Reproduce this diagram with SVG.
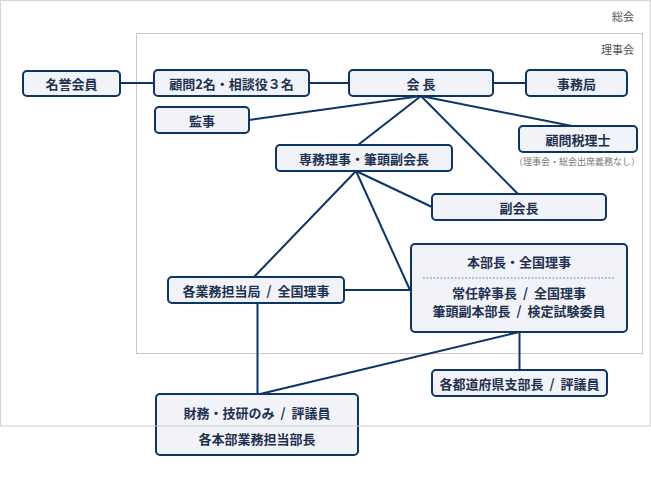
<svg xmlns="http://www.w3.org/2000/svg" width="651" height="482" viewBox="0 0 651 482">
<style>
.n{fill:#f2f3f8;stroke:#0c3563;stroke-width:2}
.t{font-family:"Noto Sans CJK JP","Noto Sans",sans-serif;font-size:13px;font-weight:bold;fill:#1e3150;text-anchor:middle;dominant-baseline:central}
.c{stroke:#0c3563;stroke-width:2;fill:none}
.g{font-family:"Noto Sans CJK JP","Noto Sans",sans-serif;font-size:11px;fill:#555;text-anchor:end}
.s{font-family:"Noto Sans CJK JP","Noto Sans",sans-serif;font-size:9px;fill:#777;text-anchor:middle}
</style>
<rect width="651" height="482" fill="#fff"/>
<rect x="136.5" y="33.5" width="506" height="320" fill="none" stroke="#c8c8c8" stroke-width="1"/>
<text class="g" x="634" y="21">総会</text>
<text class="g" x="634" y="54">理事会</text>
<g id="connectors">
<line class="c" x1="120" y1="83" x2="154" y2="83"/>
<line class="c" x1="309" y1="83" x2="349" y2="83"/>
<line class="c" x1="493" y1="83" x2="526" y2="83"/>
<line class="c" x1="421" y1="96" x2="249" y2="120"/>
<line class="c" x1="421" y1="96" x2="358" y2="145"/>
<line class="c" x1="421" y1="96" x2="572" y2="126"/>
<line class="c" x1="421" y1="96" x2="518" y2="194"/>
<line class="c" x1="356" y1="171" x2="432" y2="207"/>
<line class="c" x1="356" y1="171" x2="254" y2="277"/>
<line class="c" x1="356" y1="171" x2="410" y2="290"/>
<line class="c" x1="344" y1="290" x2="411" y2="290"/>
<line class="c" x1="257.5" y1="303" x2="257.5" y2="394"/>
<line class="c" x1="519.5" y1="332" x2="519.5" y2="370"/>
<line class="c" x1="519" y1="332" x2="260" y2="394"/>
</g>
<g id="meiyo"><rect class="n" x="23" y="71" width="97" height="25" rx="4"/><text class="t" x="71.5" y="83.5">名誉会員</text></g>
<g id="komon"><rect class="n" x="154" y="70" width="155" height="26" rx="4"/><text class="t" x="231.5" y="83.5">顧問2名・相談役３名</text></g>
<g id="kaicho"><rect class="n" x="349" y="70" width="144" height="26" rx="4"/><text class="t" x="421" y="83.5">会 長</text></g>
<g id="jimukyoku"><rect class="n" x="526" y="70" width="101" height="26" rx="4"/><text class="t" x="576.5" y="83.5">事務局</text></g>
<g id="kanji"><rect class="n" x="155" y="107" width="94" height="26" rx="4"/><text class="t" x="202" y="120.5">監事</text></g>
<g id="zeirishi"><rect class="n" x="519" y="126" width="118" height="26" rx="4"/><text class="t" x="578" y="139.5">顧問税理士</text><text class="s" x="577" y="165">（理事会・総会出席義務なし）</text></g>
<g id="senmu"><rect class="n" x="276" y="145" width="176" height="26" rx="4"/><text class="t" x="364" y="158.5">専務理事・筆頭副会長</text></g>
<g id="fukukaicho"><rect class="n" x="432" y="194" width="174" height="26" rx="4"/><text class="t" x="519" y="207.5">副会長</text></g>
<g id="kakugyomu"><rect class="n" x="168" y="277" width="176" height="26" rx="4"/><text class="t" x="256" y="290.5">各業務担当局&#160;&#160;/&#160;&#160;全国理事</text></g>
<g id="honbucho"><rect class="n" x="411" y="244" width="216" height="88" rx="4"/><text class="t" x="519" y="261">本部長・全国理事</text><line x1="423" y1="278" x2="615" y2="278" stroke="#8090a8" stroke-width="1" stroke-dasharray="2,1.5"/><text class="t" x="519" y="292">常任幹事長&#160;&#160;/&#160;&#160;全国理事</text><text class="t" x="519" y="310">筆頭副本部長&#160;&#160;/&#160;&#160;検定試験委員</text></g>
<g id="shibucho"><rect class="n" x="432" y="370" width="175" height="26" rx="4"/><text class="t" x="519.5" y="383.5">各都道府県支部長&#160;&#160;/&#160;&#160;評議員</text></g>
<g id="zaimu"><rect class="n" x="156" y="394" width="202" height="61" rx="4"/><text class="t" x="257" y="412">財務・技研のみ&#160;&#160;/&#160;&#160;評議員</text><text class="t" x="257" y="438.5">各本部業務担当部長</text></g>
<rect x="0.5" y="0.5" width="650" height="425.5" fill="none" stroke="#cccccc" stroke-opacity="0.8" stroke-width="1.2"/>
</svg>
